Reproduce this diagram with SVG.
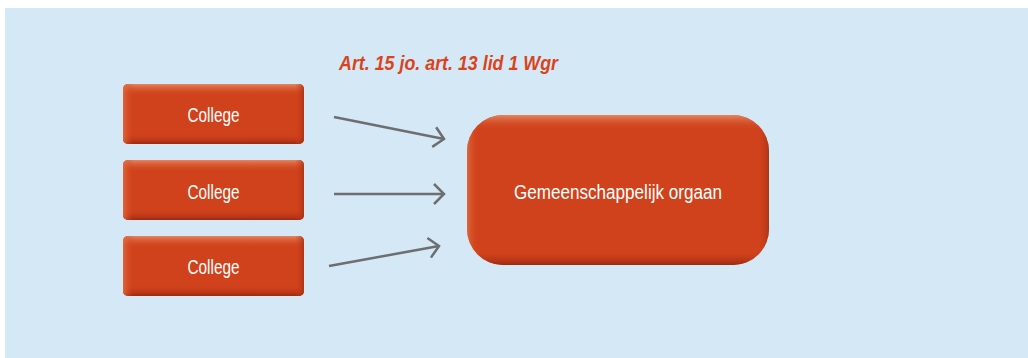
<svg xmlns="http://www.w3.org/2000/svg" width="1028" height="358" viewBox="0 0 1028 358">
  <defs>
    <linearGradient id="gv" x1="0" y1="0" x2="0" y2="1">
      <stop offset="0" stop-color="#e5865f" stop-opacity="1"/>
      <stop offset="0.2" stop-color="#d0421c" stop-opacity="0"/>
      <stop offset="0.82" stop-color="#d0421c" stop-opacity="0"/>
      <stop offset="1" stop-color="#9e2810" stop-opacity="1"/>
    </linearGradient>
    <linearGradient id="gh" x1="0" y1="0" x2="1" y2="0">
      <stop offset="0" stop-color="#e27040" stop-opacity="0.8"/>
      <stop offset="0.06" stop-color="#d0421c" stop-opacity="0"/>
      <stop offset="0.95" stop-color="#d0421c" stop-opacity="0"/>
      <stop offset="1" stop-color="#a83012" stop-opacity="0.8"/>
    </linearGradient>
    <linearGradient id="gvBig" x1="0" y1="0" x2="0" y2="1">
      <stop offset="0" stop-color="#e5865f" stop-opacity="1"/>
      <stop offset="0.1" stop-color="#d0421c" stop-opacity="0"/>
      <stop offset="0.9" stop-color="#d0421c" stop-opacity="0"/>
      <stop offset="1" stop-color="#9e2810" stop-opacity="1"/>
    </linearGradient>
    <linearGradient id="ghBig" x1="0" y1="0" x2="1" y2="0">
      <stop offset="0" stop-color="#e27040" stop-opacity="0.8"/>
      <stop offset="0.04" stop-color="#d0421c" stop-opacity="0"/>
      <stop offset="0.96" stop-color="#d0421c" stop-opacity="0"/>
      <stop offset="1" stop-color="#a83012" stop-opacity="0.8"/>
    </linearGradient>
    <marker id="arr" markerUnits="userSpaceOnUse" markerWidth="16" markerHeight="24" refX="11" refY="11" orient="auto" overflow="visible">
      <path d="M1,1 L11,11 L1,21" fill="none" stroke="#6d6e70" stroke-width="2.5" stroke-linejoin="miter"/>
    </marker>
  </defs>
  <style>
    .base { fill: #d0421c; }
    .lbl { font-family: "Liberation Sans", "DejaVu Sans", sans-serif; fill: #ffffff; font-size: 20px; text-anchor: middle; }
    .conn { stroke: #6d6e70; stroke-width: 2.5; fill: none; marker-end: url(#arr); }
    .title { font-family: "Liberation Sans", "DejaVu Sans", sans-serif; font-weight: bold; font-style: italic; font-size: 20px; fill: #d9441c; }
  </style>
  <rect x="0" y="0" width="1028" height="358" fill="#ffffff"/>
  <rect x="5" y="8" width="1023" height="350" fill="#d4e8f6"/>

  <text class="title" x="339" y="70" textLength="219" lengthAdjust="spacingAndGlyphs">Art. 15 jo. art. 13 lid 1 Wgr</text>

  <g id="college1">
    <rect class="base" x="123" y="84" width="181" height="60" rx="5"/>
    <rect x="123" y="84" width="181" height="60" rx="5" fill="url(#gv)"/>
    <rect x="123" y="84" width="181" height="60" rx="5" fill="url(#gh)"/>
    <text class="lbl" x="213.5" y="122" textLength="52" lengthAdjust="spacingAndGlyphs">College</text>
  </g>
  <g id="college2">
    <rect class="base" x="123" y="160" width="181" height="60" rx="5"/>
    <rect x="123" y="160" width="181" height="60" rx="5" fill="url(#gv)"/>
    <rect x="123" y="160" width="181" height="60" rx="5" fill="url(#gh)"/>
    <text class="lbl" x="213.5" y="199" textLength="52" lengthAdjust="spacingAndGlyphs">College</text>
  </g>
  <g id="college3">
    <rect class="base" x="123" y="236" width="181" height="60" rx="5"/>
    <rect x="123" y="236" width="181" height="60" rx="5" fill="url(#gv)"/>
    <rect x="123" y="236" width="181" height="60" rx="5" fill="url(#gh)"/>
    <text class="lbl" x="213.5" y="274" textLength="52" lengthAdjust="spacingAndGlyphs">College</text>
  </g>
  <g id="orgaan">
    <rect class="base" x="467" y="115" width="302" height="150" rx="36"/>
    <rect x="467" y="115" width="302" height="150" rx="36" fill="url(#gvBig)"/>
    <rect x="467" y="115" width="302" height="150" rx="36" fill="url(#ghBig)"/>
    <text class="lbl" x="618" y="199" textLength="208" lengthAdjust="spacingAndGlyphs">Gemeenschappelijk orgaan</text>
  </g>

  <g id="connectors">
    <line class="conn" x1="334" y1="117" x2="444" y2="139"/>
    <line class="conn" x1="334" y1="194" x2="444" y2="194"/>
    <line class="conn" x1="329" y1="266" x2="439" y2="246"/>
  </g>
</svg>
